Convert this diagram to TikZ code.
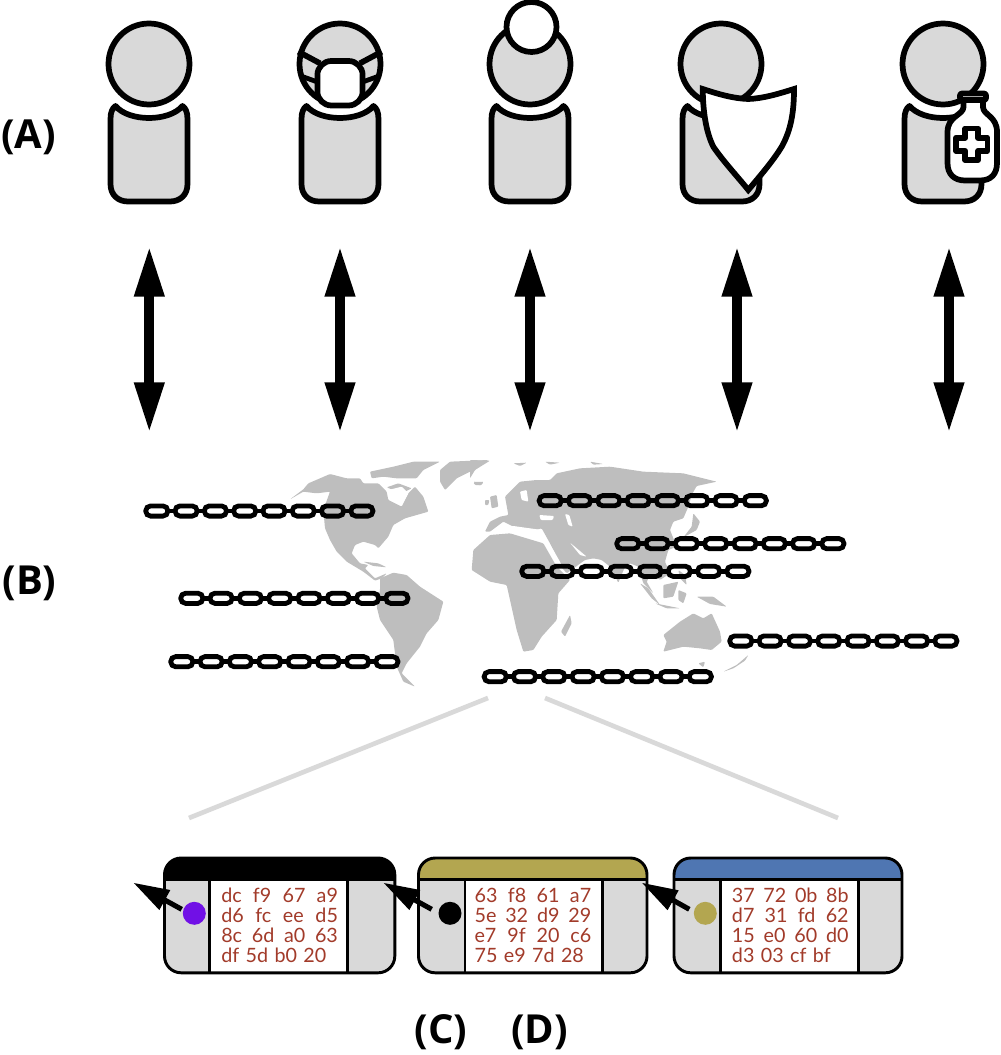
\documentclass[tikz,border=0pt]{standalone}
\usepackage{fontspec}
\setmainfont{Open Sans}
\newfontfamily\hexfont{Lato}
\usetikzlibrary{arrows.meta}
\definecolor{pgray}{HTML}{D9D9D9}
\definecolor{mapgray}{HTML}{BEBEBE}
\definecolor{olive}{HTML}{B3A650}
\definecolor{cblue}{HTML}{4F76B2}
\definecolor{cpurple}{HTML}{7110E6}
\definecolor{hexred}{HTML}{A23B2A}
\newcommand{\hexrow}[4]{\makebox[87.5pt][s]{#1\hfill #2\hfill #3\hfill #4}\\}
\newcommand{\hexlast}[4]{#1\hspace{4.8pt}#2\hspace{4.8pt}#3\hspace{4.8pt}#4}
\tikzset{
  x=0.75pt,y=-0.75pt,
  figline/.style={draw=black,line width=4.3pt,line join=round},
  whitepart/.style={figline,fill=white},
  graypart/.style={figline,fill=pgray},
  land/.style={fill=mapgray,draw=none,rounded corners=0.7pt},
  sea/.style={fill=white,draw=none,rounded corners=0.7pt},
  chainlink/.style={draw=black,line width=3.6pt,rounded corners=3.75pt},
  cardline/.style={draw=black,line width=2.2pt},
  dblarrow/.style={line width=7.5pt,{Triangle[length=38pt,width=21pt]}-{Triangle[length=38pt,width=21pt]}},
  ptr/.style={line width=3.8pt,-{Triangle[length=27pt,width=16pt]}},
  zoomline/.style={draw=pgray,line width=3.5pt},
  panel/.style={font=\bfseries\fontsize{30}{34}\selectfont,inner sep=0pt},
  hexbox/.style={font=\hexfont\fontsize{14.8}{15}\selectfont,text=hexred,inner sep=0pt,align=left,text width=90pt},
  person/.pic={
    \path[graypart] (-33.5,42) .. controls (-20,58) and (20,58) .. (33.5,42)
      .. controls (36.5,44) and (38.5,48) .. (38.5,55) -- (38.5,120)
      .. controls (38.5,131) and (31,137.5) .. (21,137.5) -- (-21,137.5)
      .. controls (-31,137.5) and (-38.5,131) .. (-38.5,120) -- (-38.5,55)
      .. controls (-38.5,48) and (-36.5,44) .. (-33.5,42) -- cycle;
    \path[graypart] (0,0) circle[radius=40.5];
  },
  chain/.pic={
    \foreach \i in {0,...,6}{
      \draw[black,line width=3.4pt] (29.3*\i+24.75,0) -- ++(6.8,0);
    }
    \foreach \i in {0,...,7}{
      \path[chainlink] (29.3*\i+2.4,-5.1) rectangle ++(22.2,10.2);
    }
  }
}
\begin{document}
\begin{tikzpicture}
\useasboundingbox (0,0) rectangle (1000,1055);
% ---------- map, traced in 3x crop coordinates
\begin{scope}[shift={(130,450)},x=0.25pt,y=-0.25pt]
  \fill[land] (480,148) -- (520,118) -- (535,100) -- (570,85) -- (600,72) -- (650,85) -- (690,85) -- (700,100) -- (745,100) -- (770,125) -- (775,150) -- (815,170) -- (835,130) -- (855,110) -- (880,140) -- (895,185) -- (860,195) -- (825,205) -- (790,225) -- (775,260) -- (745,295) -- (735,285) -- (700,275) -- (675,285) -- (665,310) -- (690,340) -- (715,345) -- (705,355) -- (735,385) -- (770,370) -- (755,385) -- (735,392) -- (700,365) -- (650,335) -- (620,305) -- (600,270) -- (585,235) -- (580,180) -- (600,125) -- (560,130) -- (520,125) -- cycle;
  \fill[land] (720,65) -- (790,50) -- (850,35) -- (930,35) -- (880,60) -- (860,85) -- (800,85) -- (760,80) -- (725,85) -- cycle;
  \fill[land] (770,112) -- (805,100) -- (845,115) -- (815,130) -- cycle;
  \fill[sea] (775,120) -- (815,110) -- (835,130) -- (815,165) -- (785,150) -- cycle;
  \fill[land] (930,60) -- (960,35) -- (1075,30) -- (1020,65) -- (980,85) -- (945,120) -- (930,95) -- cycle;
  \fill[land] (1030,97) -- (1060,95) -- (1055,105) -- (1035,105) -- cycle;
  \fill[land] (750,385) -- (790,368) -- (830,375) -- (870,410) -- (940,455) -- (925,510) -- (890,550) -- (870,590) -- (830,640) -- (815,670) -- (855,710) -- (820,695) -- (800,650) -- (790,570) -- (750,510) -- (740,470) -- (750,420) -- cycle;
  \fill[land] (700,335) -- (745,340) -- (770,352) -- (730,348) -- cycle;
\end{scope}
\begin{scope}[shift={(470,450)},x=0.25pt,y=-0.25pt]
  % Eurasia
  \fill[land] (45,245) -- (60,215) -- (90,200) -- (115,195) -- (105,140) -- (150,95) -- (200,90) -- (240,90) -- (260,70) -- (330,55) -- (420,50) -- (520,65) -- (640,70) -- (740,95) -- (680,108) -- (665,135) -- (655,170) -- (640,205) -- (610,215) -- (600,240) -- (620,290) -- (595,300) -- (585,335) -- (600,370) -- (570,390) -- (545,370) -- (530,395) -- (550,430) -- (520,400) -- (505,350) -- (480,340) -- (465,350) -- (445,398) -- (420,350) -- (395,330) -- (370,325) -- (345,330) -- (290,370) -- (265,340) -- (240,280) -- (215,235) -- (160,250) -- (130,230) -- (100,215) -- (60,245) -- cycle;
  % northern islands
  \fill[land] (130,40) -- (170,38) -- (150,48) -- cycle;
  \fill[land] (225,35) -- (270,38) -- (240,44) -- cycle;
  \fill[land] (360,35) -- (400,42) -- (370,44) -- cycle;
  \fill[land] (0,30) -- (60,32) -- (15,60) -- (0,85) -- cycle;
  \fill[land] (10,95) -- (40,97) -- (30,107) -- cycle;
  \fill[land] (60,140) -- (80,135) -- (85,170) -- (65,175) -- cycle;
  \fill[land] (45,150) -- (58,150) -- (55,165) -- (45,165) -- cycle;
  % Africa
  \fill[land] (60,255) -- (120,250) -- (170,265) -- (220,280) -- (260,350) -- (300,390) -- (265,430) -- (260,510) -- (215,560) -- (190,600) -- (160,605) -- (140,540) -- (120,450) -- (110,405) -- (60,395) -- (5,360) -- (10,300) -- cycle;
  % inner seas
  \fill[sea] (150,125) -- (170,120) -- (175,155) -- (155,150) -- cycle;
  \fill[sea] (208,195) -- (252,198) -- (248,210) -- (212,210) -- cycle;
  \fill[sea] (285,192) -- (298,195) -- (308,230) -- (295,225) -- cycle;
  \fill[sea] (75,240) -- (130,228) -- (215,240) -- (200,256) -- (160,260) -- (120,245) -- cycle;
  \fill[sea] (230,282) -- (240,282) -- (278,350) -- (270,352) -- cycle;
  \fill[sea] (300,278) -- (350,320) -- (330,315) -- cycle;
  % Madagascar, Australia, New Zealand, archipelagos
  \fill[land] (300,495) -- (305,520) -- (285,560) -- (273,545) -- cycle;
  \fill[land] (580,555) -- (630,515) -- (670,490) -- (700,505) -- (725,490) -- (750,545) -- (755,575) -- (725,600) -- (690,595) -- (640,590) -- (580,605) -- (590,575) -- cycle;
  \fill[land] (685,640) -- (705,635) -- (700,652) -- cycle;
  \fill[land] (760,665) -- (800,645) -- (835,615) -- (825,632) -- (790,655) -- cycle;
  \fill[land] (510,400) -- (535,415) -- (570,465) -- (545,445) -- cycle;
  \fill[land] (580,405) -- (625,395) -- (610,440) -- (580,445) -- cycle;
  \fill[land] (555,460) -- (630,475) -- (590,475) -- cycle;
  \fill[land] (625,420) -- (650,430) -- (640,460) -- (625,450) -- cycle;
  \fill[land] (680,440) -- (730,440) -- (770,470) -- (720,462) -- cycle;
  \fill[land] (625,360) -- (645,375) -- (650,405) -- (630,385) -- cycle;
  \fill[land] (670,190) -- (690,215) -- (680,240) -- (640,262) -- (665,230) -- cycle;
\end{scope}
% ---------- labels
\node[panel] (la) at (28.5,137) {(A)};
\node[panel] (lb) at (29.5,583) {(B)};
\node[panel] (lc) at (441,1032) {(C)};
\node[panel] (ld) at (539.5,1032) {(D)};
% ---------- persons
\pic (p1) at (149,64) {person};
\pic (p2) at (340,64) {person};
\pic (p3) at (530,64) {person};
\pic (p4) at (721,64) {person};
\pic (p5) at (943,64) {person};
% mask
\begin{scope}[shift={(340,64)}]
  \draw[figline] (-41.7,-12.3) -- (-20,-0.7);
  \draw[figline] (41.7,-12.3) -- (20,-0.7);
  \draw[figline,line width=3.6pt] (-39.3,12) -- (-23.3,17.7);
  \draw[figline,line width=3.6pt] (39.3,12) -- (23.3,17.7);
  \path[whitepart,rounded corners=10.5pt] (-22.6,-3) rectangle (22.6,41.5);
\end{scope}
% white circle
\path[whitepart] (531.5,27) circle[radius=25];
% shield
\path[whitepart,line join=miter] (702.7,89) .. controls (718,94) and (733,98.5) .. (748.3,99) .. controls (763,98.5) and (778,94) .. (794,89) .. controls (794,112) and (791,130) .. (781.7,146.7) .. controls (773,161) and (760,176) .. (748.3,190) .. controls (737,176) and (723,161) .. (713.3,146.7) .. controls (706,132) and (703,112) .. (702.7,89) -- cycle;
% bottle
\path[whitepart] (963.5,97) -- (963.5,107) .. controls (963.5,115) and (947.5,116) .. (947.5,132) -- (947.5,163) .. controls (947.5,174) and (954,180.5) .. (965,180.5) -- (980,180.5) .. controls (991,180.5) and (997,174) .. (997,163) -- (997,132) .. controls (997,116) and (983,115) .. (983,107) -- (983,97) -- cycle;
\path[whitepart,rounded corners=1.5pt] (960,93.5) rectangle (986,100);
\path[whitepart] (965.2,128.5) -- (978.2,128.5) -- (978.2,137.8) -- (987.4,137.8) -- (987.4,150.8) -- (978.2,150.8) -- (978.2,160) -- (965.2,160) -- (965.2,150.8) -- (956,150.8) -- (956,137.8) -- (965.2,137.8) -- cycle;
% ---------- double arrows
\foreach \n/\ax in {1/149.3,2/340,3/530,4/737,5/949}{
  \coordinate (up\n) at (\ax,246);
  \coordinate (dn\n) at (\ax,433);
  \draw[dblarrow] (up\n) -- (dn\n);
}
% ---------- chains
\pic (c1) at (143.3,511) {chain};
\pic (c2) at (178.3,598.3) {chain};
\pic (c3) at (168.3,661.7) {chain};
\pic (c4) at (536.7,500.7) {chain};
\pic (c5) at (614.3,543.7) {chain};
\pic (c6) at (519.3,571.3) {chain};
\pic (c7) at (727.3,641) {chain};
\pic (c8) at (481.7,676.7) {chain};
% ---------- zoom lines
\coordinate (z1a) at (488,698);
\coordinate (z1b) at (189,818);
\coordinate (z2a) at (545,698);
\coordinate (z2b) at (838,818);
\draw[zoomline] (z1a) -- (z1b);
\draw[zoomline] (z2a) -- (z2b);
% ---------- cards
\foreach \l/\r/\ca/\cb/\hc in {164.5/394.8/209.3/347.3/black,418.5/647/465/602.7/olive,674/902/720.7/858.3/cblue}{
  \begin{scope}
    \clip[rounded corners=12.5pt] (\l,858) rectangle (\r,972.8);
    \fill[pgray] (\l,858) rectangle (\r,972.8);
    \fill[white] (\ca,879) rectangle (\cb,972.8);
    \fill[\hc] (\l,858) rectangle (\r,879.5);
  \end{scope}
  \draw[cardline] (\l,879.5) -- (\r,879.5);
  \draw[cardline] (\ca,879.5) -- (\ca,972.8);
  \draw[cardline] (\cb,879.5) -- (\cb,972.8);
  \draw[cardline,rounded corners=12.5pt] (\l,858) rectangle (\r,972.8);
}
\node[hexbox,anchor=west] (h1) at (221,925) {\hexrow{dc}{f9}{67}{a9}\hexrow{d6}{fc}{ee}{d5}\hexrow{8c}{6d}{a0}{63}\hexlast{df}{5d}{b0}{20}};
\node[hexbox,anchor=west] (h2) at (474.3,925) {\hexrow{63}{f8}{61}{a7}\hexrow{5e}{32}{d9}{29}\hexrow{e7}{9f}{20}{c6}\hexlast{75}{e9}{7d}{28}};
\node[hexbox,anchor=west] (h3) at (731.7,925) {\hexrow{37}{72}{0b}{8b}\hexrow{d7}{31}{fd}{62}\hexrow{15}{e0}{60}{d0}\hexlast{d3}{03}{cf}{bf}};
% dots and pointers
\foreach \n/\dx/\dc in {1/194.3/cpurple,2/450/black,3/705.3/olive}{
  \fill[\dc] (\dx,913.3) circle[radius=11.5];
}
\coordinate (s1) at (181.7,909.3); \coordinate (t1) at (133.3,882.7);
\coordinate (s2) at (431.7,909.3); \coordinate (t2) at (383.3,882.7);
\coordinate (s3) at (689.3,909.3); \coordinate (t3) at (641.7,882.7);
\draw[ptr] (s1) -- (t1);
\draw[ptr] (s2) -- (t2);
\draw[ptr] (s3) -- (t3);
\end{tikzpicture}
\end{document}
